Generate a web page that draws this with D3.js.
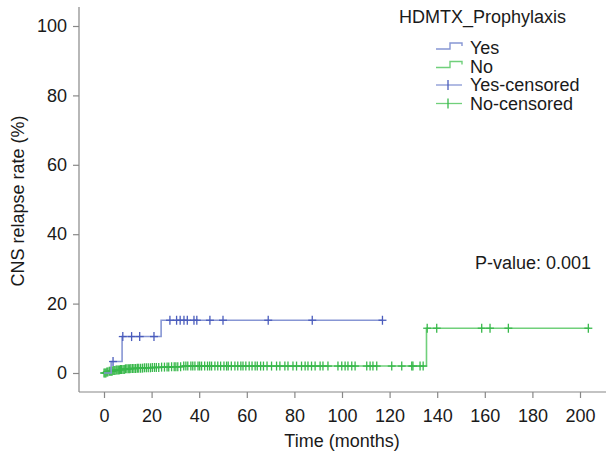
<!DOCTYPE html>
<html>
<head>
<meta charset="utf-8">
<script src="https://cdn.jsdelivr.net/npm/d3@7"></script>
<style>
  body { margin: 0; background: #fff; }
  svg text { font-family: "Liberation Sans", Arial, Helvetica, sans-serif; fill: #1a1a1a; }
</style>
</head>
<body>
<div id="chart"></div>
<script>
// step curves: event times (months) and cumulative relapse rate (%)
const yesTimes = [0, 3, 7.6, 24, 117];
const yesRates = [0, 3.3, 10.5, 15.2, 15.2];
const noTimes = [0, 1, 2, 3.5, 5, 7, 9, 11, 14, 17, 20, 24, 28, 33, 135.5, 204];
const noRates = [0, 0.3, 0.5, 0.7, 0.9, 1.0, 1.2, 1.3, 1.4, 1.5, 1.6, 1.7, 1.8, 2.0, 12.9, 12.9];

// censored observations (months)
const yesCensored = [3.8, 7.9, 11.6, 15, 21, 27.7, 30.5, 32, 33.6, 35, 37.8, 39, 44.5, 50, 69, 87.5, 117];
const noCensored = [
  0, 0.4, 0.8, 1.2, 1.6, 2.2, 2.6, 3, 3.4, 3.8, 4.2, 4.6, 5.1, 5.5, 6, 6.5, 7, 7.4, 8, 8.5,
  9, 9.6, 10.2, 10.8, 11.3, 12, 12.6, 13.3, 14, 14.6, 15.4, 16.2, 17, 17.8, 18.6, 19.5, 20.3,
  21.2, 22, 23, 24.2, 25.4, 26.5, 27.2, 28.4, 29.5, 30.2, 31, 32.2, 33.5, 34.4, 35.2, 36.5,
  37.3, 38.2, 39.5, 40.2, 41, 42.3, 43.5, 44.4, 45.2, 46.6, 47.8, 49, 50.4, 51.5, 52.2, 53.5,
  55, 56.2, 57.5, 58.4, 59.6, 61, 62.2, 63.5, 64.4, 65.8, 67, 68.5,
  70.4, 72.5, 73.9, 76, 77.3, 79.4, 80.9, 83, 84.5, 85.7, 87.2, 88.7, 90.8, 92, 94.1, 98.3,
  99.9, 101.3, 102.5, 104.1, 105.5, 110.4, 111.8, 113, 114.6, 120.9, 125.1, 129.3, 129.8,
  132.8, 134.1, 135.8, 139.8, 158.7, 162.2, 169.9, 203.5
];

const xTicks = [0, 20, 40, 60, 80, 100, 120, 140, 160, 180, 200];
const yTicks = [0, 20, 40, 60, 80, 100];

const legendLabels = ["Yes", "No", "Yes-censored", "No-censored"];
const lineColors = { Yes: "#8796d4", No: "#70d07b" };
const markColors = { Yes: "#4a5cbc", No: "#38b84b" };

const width = 606, height = 457;
const fontSize = "18px";
const svg = d3.select("#chart").append("svg")
  .attr("width", width).attr("height", height);

const x = d3.scaleLinear().domain([0, 200]).range([104, 580]);
const y = d3.scaleLinear().domain([0, 100]).range([373, 26]);

const axisX0 = 79, axisY0 = 392;

// axes
const xAxis = svg.append("g")
  .attr("transform", `translate(0,${axisY0})`)
  .call(d3.axisBottom(x).tickValues(xTicks).tickSize(6).tickPadding(11).tickSizeOuter(0));
const yAxis = svg.append("g")
  .attr("transform", `translate(${axisX0},0)`)
  .call(d3.axisLeft(y).tickValues(yTicks).tickSize(6).tickPadding(6).tickSizeOuter(0));

[xAxis, yAxis].forEach(g => {
  g.select(".domain").remove();
  g.selectAll(".tick line").attr("stroke", "#888").attr("stroke-width", 1.2);
  g.selectAll(".tick text").style("font-size", fontSize).attr("fill", "#1a1a1a");
});

svg.append("line")
  .attr("x1", axisX0).attr("x2", 606).attr("y1", axisY0).attr("y2", axisY0)
  .attr("stroke", "#888").attr("stroke-width", 1.2);
svg.append("line")
  .attr("x1", axisX0).attr("x2", axisX0).attr("y1", 7).attr("y2", axisY0)
  .attr("stroke", "#888").attr("stroke-width", 1.2);

// axis titles
svg.append("text")
  .attr("x", 342).attr("y", 447)
  .attr("text-anchor", "middle")
  .style("font-size", fontSize)
  .text("Time (months)");

svg.append("text")
  .attr("transform", "translate(24,201) rotate(-90)")
  .attr("text-anchor", "middle")
  .style("font-size", fontSize)
  .text("CNS relapse rate (%)");

// step lookup for censor marks
function rateAt(times, rates, t) {
  let v = rates[0];
  for (let i = 0; i < times.length; i++) {
    if (times[i] <= t) v = rates[i];
  }
  return v;
}

const series = {
  Yes: { times: yesTimes, rates: yesRates, censored: yesCensored },
  No: { times: noTimes, rates: noRates, censored: noCensored }
};

const line = d3.line()
  .x(d => x(d[0]))
  .y(d => y(d[1]))
  .curve(d3.curveStepAfter);

// draw No first so Yes sits on top at the start
["No", "Yes"].forEach(key => {
  const s = series[key];
  const pts = s.times.map((t, i) => [t, s.rates[i]]);
  svg.append("path")
    .datum(pts)
    .attr("fill", "none")
    .attr("stroke", lineColors[key])
    .attr("stroke-width", 1.6)
    .attr("d", line);

  const marks = svg.append("g")
    .attr("stroke", markColors[key])
    .attr("stroke-width", 1.3);
  s.censored.forEach(t => {
    const cx = x(t), cy = y(rateAt(s.times, s.rates, t));
    marks.append("line").attr("x1", cx).attr("x2", cx).attr("y1", cy - 4.5).attr("y2", cy + 4.5);
    marks.append("line").attr("x1", cx - 4).attr("x2", cx + 4).attr("y1", cy).attr("y2", cy);
  });
});

// legend
svg.append("text")
  .attr("x", 399).attr("y", 23)
  .style("font-size", fontSize)
  .text("HDMTX_Prophylaxis");

const legendY = [54, 72.5, 91, 109.5];
legendLabels.forEach((label, i) => {
  const by = legendY[i];
  const key = i % 2 === 0 ? "Yes" : "No";
  if (i < 2) {
    svg.append("path")
      .attr("d", `M436,${by - 5}H450V${by - 11}H462V${by - 8}`)
      .attr("fill", "none")
      .attr("stroke", lineColors[key])
      .attr("stroke-width", 1.4);
  } else {
    const g = svg.append("g").attr("stroke", markColors[key]).attr("stroke-width", 1.3);
    g.append("line").attr("x1", 436).attr("x2", 462).attr("y1", by - 6).attr("y2", by - 6)
      .attr("stroke", lineColors[key]);
    g.append("line").attr("x1", 448).attr("x2", 448).attr("y1", by - 11).attr("y2", by - 1);
  }
  svg.append("text")
    .attr("x", 470).attr("y", by)
    .style("font-size", fontSize)
    .text(label);
});

svg.append("text")
  .attr("x", 475).attr("y", 269)
  .style("font-size", fontSize)
  .text("P-value: 0.001");
</script>
</body>
</html>
